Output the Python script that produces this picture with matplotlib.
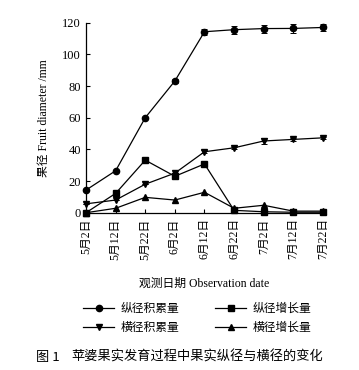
import matplotlib
matplotlib.use('Agg')
import matplotlib.pyplot as plt
from matplotlib.lines import Line2D
import numpy as np

plt.rcParams['font.family'] = ['Liberation Serif', 'Noto Sans CJK SC', 'DejaVu Sans']

# 观测日期
dates = ["5月2日", "5月12日", "5月22日", "6月2日", "6月12日", "6月22日", "7月2日", "7月12日", "7月22日"]

# 纵径积累量 / 纵径增长量 / 横径积累量 / 横径增长量 (mm)
long_cum = [14.3, 26.5, 60.0, 83.2, 114.3, 115.6, 116.3, 116.4, 117.0]
long_cum_err = [0, 0, 0, 1.2, 1.8, 2.5, 2.5, 2.8, 2.2]
long_inc = [0.0, 12.2, 33.2, 23.0, 30.8, 1.5, 0.6, 0.3, 0.3]
trans_cum = [5.6, 8.0, 18.0, 25.0, 38.5, 41.0, 45.3, 46.3, 47.3]
trans_cum_err = [0, 0, 0, 0, 0.8, 0.8, 1.8, 1.2, 0.8]
trans_inc = [0.0, 2.8, 9.7, 8.0, 12.9, 2.8, 4.7, 1.0, 1.0]

fig = plt.figure(figsize=(3.59, 3.70), dpi=100)
ax = fig.add_axes([0.2396, 0.4251, 0.66, 0.5135])

x = np.arange(len(dates))
kw = dict(color='black', lw=0.9, ms=4.5, clip_on=False, capsize=2, elinewidth=0.7, capthick=0.7)
ax.errorbar(x, long_cum, yerr=long_cum_err, marker='o', **kw)
ax.errorbar(x, long_inc, marker='s', **kw)
ax.errorbar(x, trans_cum, yerr=trans_cum_err, marker='v', **kw)
ax.errorbar(x, trans_inc, marker='^', **kw)

ax.set_xlim(0, len(dates) - 1)
ax.set_ylim(0, 120)
ax.set_yticks([0, 20, 40, 60, 80, 100, 120])
ax.set_xticks(x)
ax.set_xticklabels(dates, rotation=90)
ax.tick_params(axis='both', direction='in', length=3, width=0.8, labelsize=9)
ax.tick_params(axis='x', labelsize=8.5, pad=4)
for s in ['top', 'right']:
    ax.spines[s].set_visible(False)
for s in ['left', 'bottom']:
    ax.spines[s].set_linewidth(0.9)

ax.set_ylabel("果径 Fruit diameter /mm", fontsize=8.5, labelpad=9)
ax.set_xlabel("观测日期 Observation date", fontsize=8.5, labelpad=13)

def proxy(m):
    return Line2D([], [], color='black', lw=0.9, marker=m, ms=4.5)

fig.legend([proxy('o'), proxy('v'), proxy('s'), proxy('^')],
           ["纵径积累量", "横径积累量", "纵径增长量", "横径增长量"],
           ncol=2, frameon=False, fontsize=8.5, loc='center', bbox_to_anchor=(0.55, 0.14),
           handlelength=2.6, columnspacing=3.0, labelspacing=0.6, handletextpad=0.6)

fig.text(0.1, 0.035, "图 1", fontsize=9.5, family='Noto Sans CJK SC', va='center')
fig.text(0.2, 0.035, "苹婆果实发育过程中果实纵径与横径的变化", fontsize=9.5,
         family='Noto Sans CJK SC', va='center')

fig.savefig('out.png', dpi=100)
